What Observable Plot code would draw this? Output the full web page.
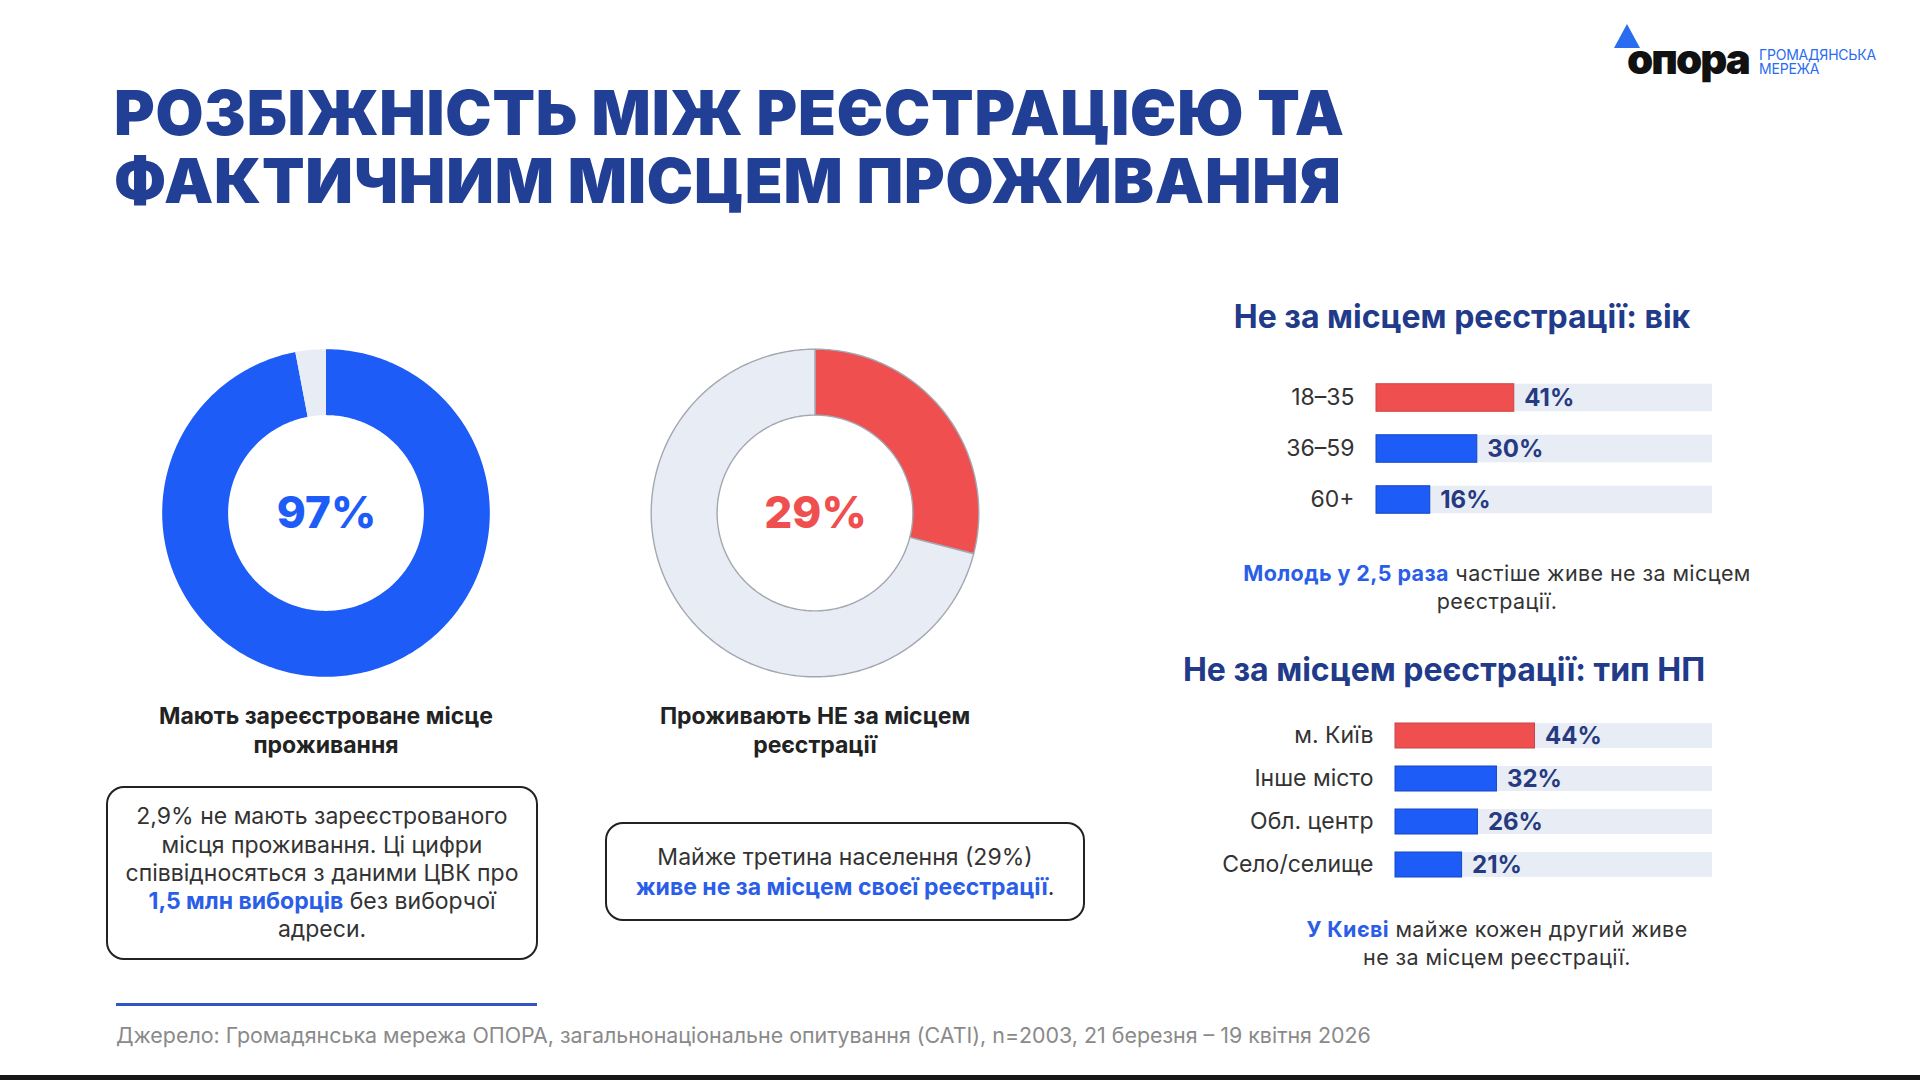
<!DOCTYPE html>
<html><head><meta charset="utf-8">
<script src="https://cdn.jsdelivr.net/npm/d3@7"></script>
<script src="https://cdn.jsdelivr.net/npm/@observablehq/plot@0.6"></script>
<style>
html,body{margin:0;padding:0;background:#fff;}
#page{position:relative;width:1920px;height:1080px;overflow:hidden;background:#fff;font-family:Inter,"Noto Sans",sans-serif;color:#333;}
.abs{position:absolute;white-space:nowrap;}
.hl{color:#2b5ee8;font-weight:700;}
</style></head><body><div id="page"></div>
<script>
// ---------- data ----------
const titleLines = ["РОЗБІЖНІСТЬ МІЖ РЕЄСТРАЦІЄЮ ТА", "ФАКТИЧНИМ МІСЦЕМ ПРОЖИВАННЯ"];
const donut1Keys = ["Мають зареєстроване місце", "Не мають"];
const donut1Vals = [97, 3];
const donut1Label = "97%";
const donut1Caption = ["Мають зареєстроване місце", "проживання"];
const donut2Keys = ["Не за місцем реєстрації", "За місцем реєстрації"];
const donut2Vals = [29, 71];
const donut2Label = "29%";
const donut2Caption = ["Проживають НЕ за місцем", "реєстрації"];
const ageTitle = "Не за місцем реєстрації: вік";
const ageCats = ["18–35", "36–59", "60+"];
const ageVals = [41, 30, 16];
const settleTitle = "Не за місцем реєстрації: тип НП";
const settleCats = ["м. Київ", "Інше місто", "Обл. центр", "Село/селище"];
const settleVals = [44, 32, 26, 21];
const sourceText = "Джерело: Громадянська мережа ОПОРА, загальнонаціональне опитування (CATI), n=2003, 21 березня – 19 квітня 2026";

// ---------- colours ----------
const BLUE = "#1d5cf6", RED = "#ef4f4f", GREY = "#e8ecf5", NAVY = "#223f96";

const page = document.getElementById("page");
function place(html, css) {
  const d = document.createElement("div");
  d.className = "abs";
  d.innerHTML = html;
  Object.assign(d.style, css);
  page.appendChild(d);
  return d;
}
function placeNode(node, left, top) {
  node.style.position = "absolute";
  node.style.left = left + "px";
  node.style.top = top + "px";
  page.appendChild(node);
}

// ---------- logo ----------
const tri = document.createElement("div");
Object.assign(tri.style, {position:"absolute", left:"1614px", top:"24px", width:0, height:0,
  borderLeft:"13px solid transparent", borderRight:"13px solid transparent", borderBottom:"24px solid #2a6cf0"});
page.appendChild(tri);
place("опора", {left:"1627px", top:"36px", fontSize:"42px", fontWeight:"900", color:"#111", letterSpacing:"-2px", lineHeight:"46px"});
place("ГРОМАДЯНСЬКА", {left:"1759px", top:"48px", fontSize:"14px", color:"#2a6cf0", lineHeight:"13px", letterSpacing:"-0.2px"});
place("МЕРЕЖА", {left:"1759px", top:"62px", fontSize:"14px", color:"#2a6cf0", lineHeight:"13px", letterSpacing:"-0.2px"});

// ---------- title ----------
place(titleLines.join("<br>"), {left:"114px", top:"79px", fontSize:"62px", fontWeight:"900", color:NAVY, lineHeight:"68px", letterSpacing:"0.8px"});

// ---------- donuts ----------
function donut(keys, vals, colors, stroke, label, labelColor) {
  const R = 1, r = 98 / 164;
  const pts = [];
  let cum = 0;
  keys.forEach((k, j) => {
    const a0 = cum / 100 * 2 * Math.PI, a1 = (cum + vals[j]) / 100 * 2 * Math.PI;
    const n = Math.max(2, Math.ceil((a1 - a0) / (Math.PI / 180)));
    for (let i = 0; i <= n; i++) {
      const a = a0 + (a1 - a0) * i / n;
      pts.push({key: k, ox: R * Math.sin(a), oy: R * Math.cos(a), ix: r * Math.sin(a), iy: r * Math.cos(a)});
    }
    cum += vals[j];
  });
  return Plot.plot({
    width: 344, height: 344, margin: 0,
    style: {fontFamily: "Inter", background: "transparent"},
    x: {domain: [-1.05, 1.05], axis: null},
    y: {domain: [-1.05, 1.05], axis: null},
    color: {domain: keys, range: colors},
    marks: [
      Plot.area(pts, {x1: "ox", y1: "oy", x2: "ix", y2: "iy", z: "key", fill: "key",
        stroke: stroke, strokeWidth: 1.4, curve: "linear"}),
      Plot.text([label], {x: 0, y: 0, text: d => d, fontSize: 44, fontWeight: 800, fill: labelColor})
    ]
  });
}
placeNode(donut(donut1Keys, donut1Vals, [BLUE, GREY], "none", donut1Label, BLUE), 154, 341);
placeNode(donut(donut2Keys, donut2Vals, [RED, GREY], "#a3a7b0", donut2Label, RED), 643, 341);

const capCss = {fontSize:"23px", fontWeight:"700", color:"#222", lineHeight:"29px", textAlign:"center", width:"460px"};
place(donut1Caption.join("<br>"), Object.assign({left:(326-230)+"px", top:"702px"}, capCss));
place(donut2Caption.join("<br>"), Object.assign({left:(815-230)+"px", top:"702px"}, capCss));

// ---------- boxes ----------
const boxCss = {border:"2px solid #222", borderRadius:"18px", boxSizing:"border-box", display:"flex",
  alignItems:"center", justifyContent:"center", textAlign:"center", fontSize:"23px", color:"#333"};
place("<div>2,9% не мають зареєстрованого<br>місця проживання. Ці цифри<br>співвідносяться з даними ЦВК про<br><span class='hl'>1,5 млн виборців</span> без виборчої<br>адреси.</div>",
  Object.assign({left:"106px", top:"786px", width:"432px", height:"174px", lineHeight:"28.2px"}, boxCss));
place("<div>Майже третина населення (29%)<br><span class='hl'>живе не за місцем своєї реєстрації</span>.</div>",
  Object.assign({left:"605px", top:"822px", width:"480px", height:"99px", lineHeight:"30px"}, boxCss));

// ---------- bar charts ----------
const headCss = {fontSize:"32px", fontWeight:"700", color:"#213b8a", width:"700px", textAlign:"center", lineHeight:"40px"};
place(ageTitle, Object.assign({left:(1462-350)+"px", top:(317-20)+"px"}, headCss));
place(settleTitle, Object.assign({left:(1444-350)+"px", top:(670-20)+"px"}, headCss));

function bars(cats, vals, step, barH, marginLeft) {
  const rows = cats.map((c, i) => ({cat: c, value: vals[i], hi: i === 0}));
  const inset = (step - barH) / 2;
  return Plot.plot({
    width: 1712 - 1150, height: step * cats.length,
    marginLeft, marginRight: 0, marginTop: 0, marginBottom: 0,
    style: {fontFamily: "Inter", fontSize: "23px", color: "#333", background: "transparent"},
    x: {domain: [0, 100], axis: null},
    y: {domain: cats, padding: 0, axis: null},
    marks: [
      Plot.barX(rows, {x1: 0, x2: 100, y: "cat", fill: GREY, insetTop: inset, insetBottom: inset}),
      Plot.barX(rows, {x1: 0, x2: "value", y: "cat", fill: d => d.hi ? RED : BLUE,
        stroke: d => d.hi ? "#c94444" : "#1747c4", strokeWidth: 1, insetTop: inset, insetBottom: inset}),
      Plot.text(rows, {x: "value", y: "cat", text: d => d.value + "%", dx: 10, textAnchor: "start",
        fontWeight: 700, fontSize: 24, fill: "#263a80"}),
      Plot.axisY({tickSize: 0, tickPadding: 22, fontSize: 23, label: null})
    ]
  });
}
placeNode(bars(ageCats, ageVals, 51.5, 28, 1376 - 1150), 1150, 397 - 51.5 / 2);
placeNode(bars(settleCats, settleVals, 43, 25, 1395 - 1150), 1150, 735 - 43 / 2);

const noteCss = {fontSize:"21.5px", color:"#333", lineHeight:"28px", textAlign:"center", width:"600px", letterSpacing:"0.4px"};
place("<span class='hl'>Молодь у 2,5 раза</span> частіше живе не за місцем<br>реєстрації.",
  Object.assign({left:(1497-300)+"px", top:(573-14)+"px"}, noteCss));
place("<span class='hl'>У Києві</span> майже кожен другий живе<br>не за місцем реєстрації.",
  Object.assign({left:(1497-300)+"px", top:(929-14)+"px", lineHeight:"29px"}, noteCss));

// ---------- footer ----------
place("", {left:"116px", top:"1003px", width:"421px", height:"3px", background:"#2f56c4"});
place(sourceText, {left:"116px", top:(1035-14)+"px", fontSize:"21.4px", color:"#8a8a8a", lineHeight:"28px"});
place("", {left:"0px", top:"1075px", width:"1920px", height:"5px", background:"#161616"});
</script>
</body></html>
